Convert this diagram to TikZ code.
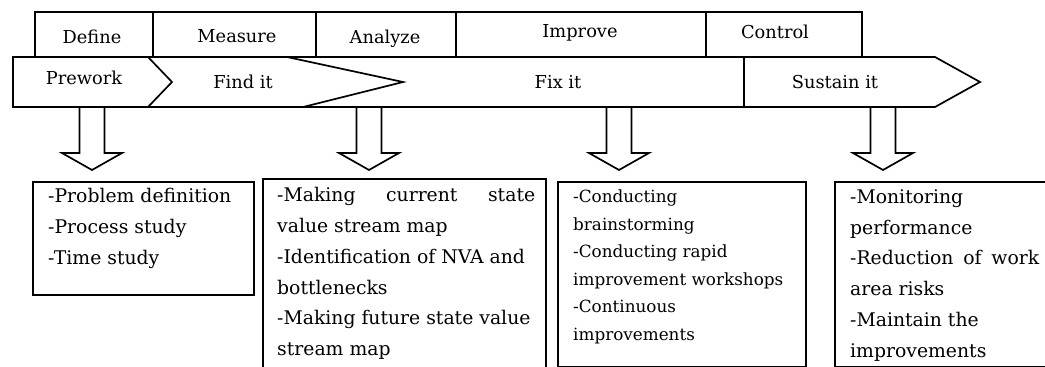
\documentclass[tikz,border=0pt]{standalone}
\usepackage{fontspec}
\setmainfont{DejaVu Serif}
\usetikzlibrary{calc}
\begin{document}
\begin{tikzpicture}[x=1pt,y=-1pt,line join=miter,
  frame/.style={draw=black,line width=1.7pt,inner sep=0pt},
  lbl/.style={font=\fontsize{17.8}{19}\selectfont,inner sep=0pt},
  txt/.style={font=\fontsize{18.8}{30.7}\selectfont,inner sep=0pt,align=left,anchor=north west},
  blockarrow/.style={line width=1.7pt,to path={($(\tikztostart)+(-12.5,0)$) -- ($(\tikztotarget)+(-12.5,-17)$) -- ($(\tikztotarget)+(-30,-17)$) -- (\tikztotarget) -- ($(\tikztotarget)+(30,-17)$) -- ($(\tikztotarget)+(12.5,-17)$) -- ($(\tikztostart)+(12.5,0)$)}}]
\useasboundingbox (0,0) rectangle (1045,367);
\clip (0,0) rectangle (1045,367);
% top phase bar
\node[frame,minimum width=118pt,minimum height=45pt] (define) at (94,34.5) {};
\node[frame,minimum width=163pt,minimum height=45pt] (measure) at (234.5,34.5) {};
\node[frame,minimum width=140pt,minimum height=45pt] (analyze) at (386,34.5) {};
\node[frame,minimum width=250pt,minimum height=45pt] (improve) at (581,34.5) {};
\node[frame,minimum width=156pt,minimum height=45pt] (control) at (784,34.5) {};
\node[lbl] (ldefine) at (92,37) {Define};
\node[lbl] (lmeasure) at (237,36) {Measure};
\node[lbl] (lanalyze) at (385,39) {Analyze};
\node[lbl] (limprove) at (580,33) {Improve};
\node[lbl] (lcontrol) at (775,32) {Control};
% band
\draw[line width=1.7pt] (13,57) -- (935,57) -- (980,82) -- (935,107) -- (13,107) -- cycle;
\draw[line width=1.7pt] (148,57) -- (172,82) -- (148,107);
\draw[line width=1.7pt] (287,57) -- (403,82) -- (303,107);
\draw[line width=1.7pt] (744,57) -- (744,107);
\node[lbl] (prework) at (84,78) {Prework};
\node[lbl] (findit) at (243,82) {Find it};
\node[lbl] (fixit) at (558,82) {Fix it};
\node[lbl] (sustain) at (835,82) {Sustain it};
% arrows
\coordinate (a1s) at (92,107);  \coordinate (a1e) at (92,170);
\coordinate (a2s) at (369,107); \coordinate (a2e) at (369,170);
\coordinate (a3s) at (619,107); \coordinate (a3e) at (619,170);
\coordinate (a4s) at (883,107); \coordinate (a4e) at (883,170);
\draw[blockarrow] (a1s) to (a1e);
\draw[blockarrow] (a2s) to (a2e);
\draw[blockarrow] (a3s) to (a3e);
\draw[blockarrow] (a4s) to (a4e);
% boxes
\node[frame,anchor=north west,minimum width=221pt,minimum height=113pt] (box1) at (32,181) {};
\node[frame,anchor=north west,minimum width=283pt,minimum height=200pt] (box2) at (262,178) {};
\node[frame,anchor=north west,minimum width=248pt,minimum height=185pt] (box3) at (557,181) {};
\node[frame,anchor=north west,minimum width=230pt,minimum height=185pt] (box4) at (834,181) {};
\node[txt] (t1) at (48,188.5) {-Problem definition\\-Process study\\-Time study};
\node[txt] (t2) at (277,187.5) {\makebox[258pt][s]{-Making current state}\\value stream map\\-Identification of NVA and\\bottlenecks\\-Making future state value\\stream map};
\node[txt,font=\fontsize{16.8}{27.6}\selectfont] (t3) at (573,189.5) {-Conducting\\brainstorming\\-Conducting rapid\\improvement workshops\\-Continuous\\improvements};
\node[txt] (t4) at (850,189.5) {-Monitoring\\performance\\\makebox[189pt][s]{-Reduction of work}\\area risks\\-Maintain the\\improvements};
\end{tikzpicture}
\end{document}
